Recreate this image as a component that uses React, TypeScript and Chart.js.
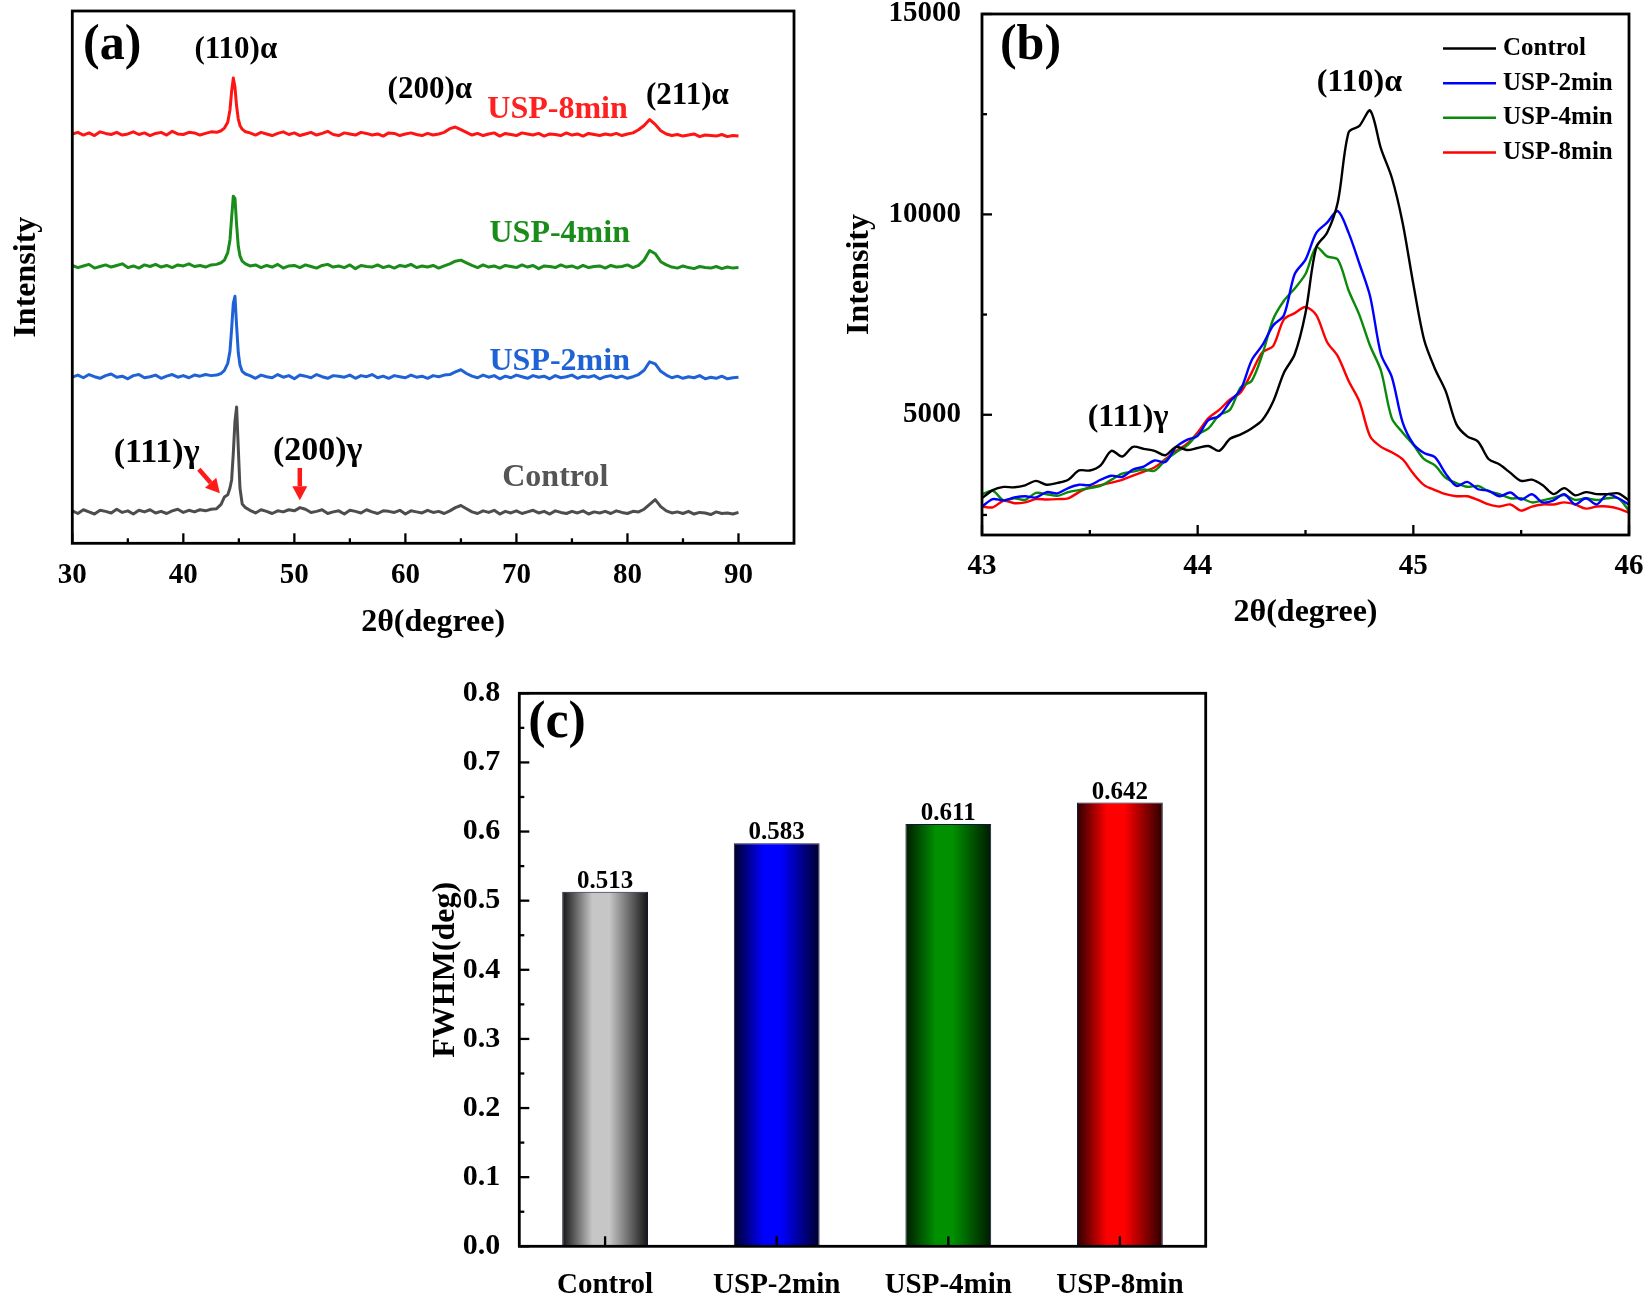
import React, { useEffect, useRef } from "react";
import { Chart, registerables } from "chart.js";

Chart.register(...registerables);

const SERIF = "'Liberation Serif', 'Times New Roman', Times, serif";
const font = (size: number) => ({ family: SERIF, size, weight: "bold" as const });

// ---------------- Panel (a): full XRD patterns ----------------
const X_A = [
  30, 30.5, 31, 31.5, 32, 32.5, 33, 33.5, 34, 34.5, 35, 35.5, 36, 36.5, 37, 37.5, 38, 38.5, 39, 39.5, 40, 40.5, 41, 41.5, 42, 42.5,
  43, 43.4, 43.7, 44, 44.2, 44.35, 44.5, 44.65, 44.8, 44.95, 45.1, 45.3, 45.6,
  46, 46.5, 47, 47.5, 48, 48.5, 49, 49.5, 50, 50.5, 51, 51.5, 52, 52.5, 53, 53.5, 54, 54.5, 55, 55.5, 56, 56.5, 57, 57.5, 58, 58.5, 59, 59.5, 60, 60.5, 61, 61.5, 62, 62.5, 63, 63.5,
  64, 64.5, 65, 65.5, 66, 66.5, 67, 67.5, 68, 68.5, 69, 69.5, 70, 70.5, 71, 71.5, 72, 72.5, 73, 73.5, 74, 74.5, 75, 75.5, 76, 76.5, 77, 77.5, 78, 78.5, 79, 79.5, 80, 80.5, 81, 81.5,
  82, 82.5, 83, 83.5, 84, 84.5, 85, 85.5, 86, 86.5, 87, 87.5, 88, 88.5, 89, 89.5, 90,
];
const A_CONTROL = [
  2, -3, 4, 0, -4, 3, 1, -2, 5, -1, 2, -4, 3, 0, 4, -2, 1, -3, 2, 5, -1, 3, 0, 4, 2, 5,
  6, 14, 28, 32, 45, 60, 110, 170, 197, 120, 45, 15, 8,
  3, -2, 4, 1, -3, 2, 0, 4, 2, 8, 5, -1, 1, 4, -3, 0, 2, -4, 3, 1, -2, 4, 0, -3, 2, 1, -1, 3, -4, 2, 0, -2, 3, -1, 1, -3,
  2, 8, 12, 6, 0, -3, 2, -1, 3, -4, 1, -2, 2, -3, 0, 3, -2, 1, -4, 2, -1, -3, 1, -2, 2, -4, 0, -2, 1, -3, 2, -1, -3, 1, 0, 5,
  14, 23, 10, 2, -2, 0, -3, 1, -4, -1, -2, -5, 0, -3, -2, -4, -1,
];
const A_2MIN = [
  -1, 3, -2, 4, 0, -3, 2, 5, -1, 1, -4, 2, 4, -2, 0, 3, -3, 1, 4, -1, 2, -2, 3, 1, 4, 2,
  3, 6, 12, 25, 48, 90, 138, 151, 95, 45, 22, 10, 5,
  2, -3, 3, 0, -2, 4, -1, 2, -4, 3, 1, -2, 4, 0, -3, 2, 1, -1, 3, -3, 2, 0, 4, -2, 1, -3, 2, 0, -2, 3, -1, 1, -3, 2, 0, 3,
  4, 9, 13, 6, 1, -2, 3, -1, 2, -4, 1, -2, 3, 0, -3, 2, -1, 1, -4, 2, -2, 0, 3, -3, 1, -1, 2, -4, 0, 2, -2, 1, -3, 0, 4, 12,
  28, 24, 10, 3, -2, 1, -3, 0, -2, 2, -4, -1, -3, 1, -4, -2, -1,
];
const A_4MIN = [
  2, -2, 1, 4, -3, 0, 3, -1, 2, 5, -2, 1, -3, 3, 0, 4, -1, 2, -2, 3, 1, 5, 0, 2, -1, 3,
  4, 7, 12, 26, 50, 92, 132, 128, 78, 38, 20, 10, 5,
  1, 3, -2, 2, -1, 4, -3, 1, 2, -2, 3, 0, -3, 2, 4, -1, 1, -2, 3, -4, 2, 0, -1, 3, -2, 1, -3, 2, 0, 4, -2, 1, -1, 2, -3, 1,
  5, 10, 12, 7, 2, -2, 3, -1, 1, -3, 2, 0, -2, 3, -1, 2, -4, 1, 0, -2, 3, -1, 1, -3, 2, -2, 0, 1, -3, 2, -1, 0, 3, -2, 2, 12,
  30, 24, 9, 3, -1, -3, 1, -2, -4, 0, -2, -3, 0, -4, -1, -3, -2,
];
const A_8MIN = [
  0, 3, -2, 2, -3, 4, 1, -1, 3, -2, 0, 4, -1, 2, -3, 1, 3, -2, 5, 0, -1, 3, 2, -2, 1, 4,
  3, 6, 11, 22, 45, 80, 105, 88, 52, 28, 16, 9, 4,
  2, -2, 3, 0, -3, 1, 4, -1, 2, -3, 0, 3, -2, 1, 5, -1, -3, 2, 0, -2, 3, 1, -2, 0, -4, 2, 1, -3, 0, 2, -1, -3, 1, -2, 0, 3,
  10, 13, 8, 3, -2, 1, -3, 0, 2, -4, 1, -1, -3, 2, 0, -2, 1, -4, 0, -1, -3, 2, -2, 0, -4, 1, -1, -3, 0, -2, 1, -3, 0, 2, 8, 16,
  27, 18, 6, 0, -3, -1, -4, -2, 0, -5, -2, -3, -4, -1, -5, -3, -4,
];
const A_SERIES = [A_CONTROL, A_2MIN, A_4MIN, A_8MIN];
const A_OFFSETS = [59, 313, 520, 769];
const SAMPLE_NAMES = ["Control", "USP-2min", "USP-4min", "USP-8min"];
const A_COLORS = ["#4d4d4d", "#1f62d6", "#1a8c1a", "#ff1414"];
const A_LABEL_COLORS = ["#555555", "#1f62d6", "#1a8c1a", "#ff2020"];
const A_X_TICKS = [30, 40, 50, 60, 70, 80, 90];
const A_X_MINOR = [35, 45, 55, 65, 75, 85];

// ---------------- Panel (b): (110) peak region ----------------
const X_B = [
  43, 43.05, 43.1, 43.15, 43.2, 43.25, 43.3, 43.35, 43.4, 43.45,
  43.5, 43.55, 43.6, 43.65, 43.7, 43.75, 43.8, 43.85, 43.9, 43.95,
  44, 44.05, 44.1, 44.15, 44.2, 44.25, 44.3, 44.35, 44.4, 44.45,
  44.5, 44.55, 44.6, 44.65, 44.7, 44.75, 44.8, 44.85, 44.9, 44.95,
  45, 45.05, 45.1, 45.15, 45.2, 45.25, 45.3, 45.35, 45.4, 45.45,
  45.5, 45.55, 45.6, 45.65, 45.7, 45.75, 45.8, 45.85, 45.9, 45.95,
  46,
];
const B_CONTROL = [
  2920, 3120, 3200, 3190, 3240, 3350, 3255, 3300, 3380, 3610,
  3610, 3740, 4100, 3960, 4200, 4150, 4100, 3990, 4200, 4120,
  4170, 4220, 4100, 4400, 4510, 4660, 4870, 5330, 6050, 6510,
  7540, 9180, 9540, 10310, 12050, 12210, 12590, 11640, 10920, 9800,
  8260, 6870, 6150, 5590, 4760, 4460, 4330, 3890, 3760, 3550,
  3350, 3380, 3240, 3020, 3170, 2990, 3070, 3020, 3020, 3040,
  2860,
];
const B_2MIN = [
  2710, 2895, 2864, 2936, 2967, 2936, 3070, 3039, 3172, 3255,
  3244, 3378, 3480, 3449, 3634, 3706, 3860, 3819, 4199, 4374,
  4476, 4866, 4969, 5328, 5636, 6355, 6735, 7228, 7485, 8511,
  8871, 9538, 9795, 10082, 9538, 8768, 7947, 6509, 5945, 4815,
  4271, 4045, 3942, 3532, 3224, 3326, 3142, 3101, 2967, 3060,
  2885, 3018, 2813, 2864, 3018, 2762, 2916, 2762, 3018, 2916,
  2762,
];
const B_4MIN = [
  3018, 3101, 2864, 2916, 2875, 3049, 3018, 2977, 3070, 3121,
  3172, 3224, 3378, 3532, 3583, 3634, 3604, 3860, 4066, 4230,
  4507, 4661, 4990, 5123, 5688, 5842, 6509, 7382, 7844, 8152,
  8511, 9179, 8953, 8871, 8101, 7485, 6715, 6099, 4918, 4558,
  4250, 3891, 3737, 3429, 3296, 3203, 3224, 3090, 3018, 2916,
  2916, 2813, 2864, 2926, 2998, 2875, 2916, 2875, 2916, 2916,
  2607,
];
const B_8MIN = [
  2710, 2690, 2854, 2793, 2813, 2895, 2885, 2895, 2916, 3070,
  3193, 3244, 3306, 3378, 3480, 3583, 3686, 3891, 4096, 4271,
  4558, 4918, 5123, 5380, 5565, 6047, 6561, 6715, 7382, 7536,
  7690, 7485, 6817, 6458, 5842, 5328, 4456, 4199, 4066, 3891,
  3532, 3244, 3121, 3018, 2967, 2967, 2875, 2762, 2710, 2762,
  2607, 2710, 2762, 2762, 2813, 2762, 2659, 2710, 2710, 2659,
  2552,
];
const B_SERIES = [B_CONTROL, B_2MIN, B_4MIN, B_8MIN];
const B_COLORS = ["#000000", "#0000ff", "#0a8a0a", "#ff0000"];
const B_X_TICKS = [43, 44, 45, 46];
const B_X_MINOR = [43.5, 44.5, 45.5];
const B_Y_TICKS = [5000, 10000, 15000];
const B_Y_MINOR = [2500, 7500, 12500];

// ---------------- Panel (c): FWHM bars ----------------
const C_CATEGORIES = ["Control", "USP-2min", "USP-4min", "USP-8min"];
const C_FWHM = [0.513, 0.583, 0.611, 0.642];
const C_Y_TICKS = [0, 0.1, 0.2, 0.3, 0.4, 0.5, 0.6, 0.7, 0.8];
const C_Y_MINOR = [0.05, 0.15, 0.25, 0.35, 0.45, 0.55, 0.65, 0.75];
const C_BAR_EDGE = ["#141414", "#00002a", "#001a00", "#2a0000"];
const C_BAR_MID = ["#c6c6c6", "#0000ff", "#009000", "#ff0000"];

// ---------------- helpers / plugins ----------------
type FrameCfg = { xMajor: number[]; xMinor: number[]; yMajor: number[]; yMinor: number[] };

function framePlugin(cfg: FrameCfg) {
  return {
    id: "frame",
    afterDatasetsDraw(chart: any) {
      const { ctx, chartArea: a, scales } = chart;
      ctx.save();
      ctx.strokeStyle = "#000";
      ctx.lineWidth = 2.3;
      const seg = (x1: number, y1: number, x2: number, y2: number) => {
        ctx.beginPath();
        ctx.moveTo(x1, y1);
        ctx.lineTo(x2, y2);
        ctx.stroke();
      };
      cfg.xMajor.forEach((v) => {
        const p = scales.x.getPixelForValue(v);
        seg(p, a.bottom, p, a.bottom - 10);
      });
      cfg.xMinor.forEach((v) => {
        const p = scales.x.getPixelForValue(v);
        seg(p, a.bottom, p, a.bottom - 5);
      });
      cfg.yMajor.forEach((v) => {
        const p = scales.y.getPixelForValue(v);
        seg(a.left, p, a.left + 10, p);
      });
      cfg.yMinor.forEach((v) => {
        const p = scales.y.getPixelForValue(v);
        seg(a.left, p, a.left + 5, p);
      });
      ctx.lineWidth = 2.8;
      ctx.strokeRect(a.left, a.top, a.right - a.left, a.bottom - a.top);
      ctx.restore();
    },
  };
}

type Note = { text: string; x: number; y: number; size: number; color?: string; rel?: boolean };

function notesPlugin(notes: Note[]) {
  return {
    id: "notes",
    afterDraw(chart: any) {
      const { ctx, chartArea: a, scales } = chart;
      ctx.save();
      ctx.textAlign = "center";
      ctx.textBaseline = "middle";
      notes.forEach((n) => {
        ctx.font = `bold ${n.size}px ${SERIF}`;
        ctx.fillStyle = n.color || "#000";
        const px = n.rel ? a.left + n.x : scales.x.getPixelForValue(n.x);
        const py = n.rel ? a.top + n.y : scales.y.getPixelForValue(n.y);
        ctx.fillText(n.text, px, py);
      });
      ctx.restore();
    },
  };
}

type Arrow = { x1: number; y1: number; x2: number; y2: number };

function arrowsPlugin(arrows: Arrow[]) {
  return {
    id: "arrows",
    afterDraw(chart: any) {
      const { ctx, scales } = chart;
      ctx.save();
      ctx.strokeStyle = "#ff1a1a";
      ctx.fillStyle = "#ff1a1a";
      ctx.lineWidth = 4.5;
      arrows.forEach((ar) => {
        const x1 = scales.x.getPixelForValue(ar.x1);
        const y1 = scales.y.getPixelForValue(ar.y1);
        const x2 = scales.x.getPixelForValue(ar.x2);
        const y2 = scales.y.getPixelForValue(ar.y2);
        const ang = Math.atan2(y2 - y1, x2 - x1);
        const head = 14;
        const hw = 7.5;
        const bx = x2 - head * Math.cos(ang);
        const by = y2 - head * Math.sin(ang);
        ctx.beginPath();
        ctx.moveTo(x1, y1);
        ctx.lineTo(bx, by);
        ctx.stroke();
        ctx.beginPath();
        ctx.moveTo(x2, y2);
        ctx.lineTo(bx + hw * Math.sin(ang), by - hw * Math.cos(ang));
        ctx.lineTo(bx - hw * Math.sin(ang), by + hw * Math.cos(ang));
        ctx.closePath();
        ctx.fill();
      });
      ctx.restore();
    },
  };
}

const legendPlugin = {
  id: "lineLegend",
  afterDraw(chart: any) {
    const { ctx, chartArea: a } = chart;
    ctx.save();
    ctx.font = `bold 25px ${SERIF}`;
    ctx.textAlign = "left";
    ctx.textBaseline = "middle";
    chart.data.datasets.forEach((ds: any, i: number) => {
      const y = a.top + 34.6 + i * 34.6;
      ctx.strokeStyle = ds.borderColor;
      ctx.lineWidth = 2.5;
      ctx.beginPath();
      ctx.moveTo(a.right - 186, y);
      ctx.lineTo(a.right - 133, y);
      ctx.stroke();
      ctx.fillStyle = "#000";
      ctx.fillText(ds.label, a.right - 126, y);
    });
    ctx.restore();
  },
};

const valueLabelPlugin = {
  id: "valueLabels",
  afterDatasetsDraw(chart: any) {
    const { ctx } = chart;
    const meta = chart.getDatasetMeta(0);
    ctx.save();
    ctx.font = `bold 25px ${SERIF}`;
    ctx.fillStyle = "#000";
    ctx.textAlign = "center";
    ctx.textBaseline = "alphabetic";
    meta.data.forEach((bar: any, i: number) => {
      const v = chart.data.datasets[0].data[i] as number;
      ctx.fillText(v.toFixed(3), bar.x, bar.y - 4);
    });
    ctx.restore();
  },
};

function zeroPad(s: any) {
  s.paddingTop = 0;
  s.paddingBottom = 0;
  s.paddingLeft = 0;
  s.paddingRight = 0;
}

// ---------------- chart configs ----------------
function configA(): any {
  return {
    type: "line",
    data: {
      datasets: A_SERIES.map((ser, k) => ({
        label: SAMPLE_NAMES[k],
        data: X_A.map((x, i) => ({ x, y: ser[i] + A_OFFSETS[k] })),
        borderColor: A_COLORS[k],
        borderWidth: 3,
        borderJoinStyle: "round",
        pointRadius: 0,
        tension: 0,
        fill: false,
      })),
    },
    options: {
      responsive: false,
      animation: false,
      devicePixelRatio: 1,
      layout: { padding: { top: 11, right: 29, bottom: 0, left: 0 } },
      plugins: { legend: { display: false }, tooltip: { enabled: false } },
      scales: {
        x: {
          type: "linear",
          min: 30,
          max: 95,
          grid: { display: false },
          border: { display: false },
          ticks: { font: font(29), color: "#000", padding: 7, maxRotation: 0, autoSkip: false },
          afterBuildTicks: (s: any) => {
            s.ticks = A_X_TICKS.map((v) => ({ value: v }));
          },
          title: { display: true, text: "2θ(degree)", font: font(32), color: "#000", padding: { top: 0, bottom: 3.8 } },
          afterFit: (s: any) => {
            s.height = 102.7;
            zeroPad(s);
          },
        },
        y: {
          type: "linear",
          min: 0,
          max: 1000,
          grid: { display: false },
          border: { display: false },
          ticks: { display: false },
          title: { display: true, text: "Intensity", font: font(32), color: "#000", padding: { top: 7.8, bottom: 0 } },
          afterFit: (s: any) => {
            s.width = 72.3;
            zeroPad(s);
          },
        },
      },
    },
    plugins: [
      framePlugin({ xMajor: A_X_TICKS, xMinor: A_X_MINOR, yMajor: [], yMinor: [] }),
      notesPlugin([
        { text: "(a)", x: 33.6, y: 935, size: 50 },
        { text: "(110)α", x: 44.73, y: 926, size: 31 },
        { text: "(200)α", x: 62.2, y: 851, size: 31 },
        { text: "(211)α", x: 85.4, y: 841, size: 31 },
        { text: SAMPLE_NAMES[3], x: 73.7, y: 815, size: 32, color: A_LABEL_COLORS[3] },
        { text: SAMPLE_NAMES[2], x: 73.9, y: 582, size: 32, color: A_LABEL_COLORS[2] },
        { text: SAMPLE_NAMES[1], x: 73.9, y: 342, size: 32, color: A_LABEL_COLORS[1] },
        { text: SAMPLE_NAMES[0], x: 73.5, y: 123, size: 32, color: A_LABEL_COLORS[0] },
        { text: "(111)γ", x: 37.6, y: 169, size: 34 },
        { text: "(200)γ", x: 52.1, y: 173, size: 34 },
      ]),
      arrowsPlugin([
        { x1: 41.4, y1: 139, x2: 43.29, y2: 94 },
        { x1: 50.49, y1: 141.5, x2: 50.49, y2: 81 },
      ]),
    ],
  };
}

function configB(): any {
  return {
    type: "line",
    data: {
      datasets: B_SERIES.map((ser, k) => ({
        label: SAMPLE_NAMES[k],
        data: X_B.map((x, i) => ({ x, y: ser[i] })),
        borderColor: B_COLORS[k],
        borderWidth: 2.4,
        pointRadius: 0,
        tension: 0.3,
        fill: false,
      })),
    },
    options: {
      responsive: false,
      animation: false,
      devicePixelRatio: 1,
      layout: { padding: { top: 14, right: 17, bottom: 0, left: 0 } },
      plugins: { legend: { display: false }, tooltip: { enabled: false } },
      scales: {
        x: {
          type: "linear",
          min: 43,
          max: 46,
          grid: { display: false },
          border: { display: false },
          ticks: { font: font(29), color: "#000", padding: 6, maxRotation: 0, autoSkip: false, callback: (v: any) => String(v) },
          afterBuildTicks: (s: any) => {
            s.ticks = B_X_TICKS.map((v) => ({ value: v }));
          },
          title: { display: true, text: "2θ(degree)", font: font(32), color: "#000", padding: { top: 0, bottom: 13.8 } },
          afterFit: (s: any) => {
            s.height = 111;
            zeroPad(s);
          },
        },
        y: {
          type: "linear",
          min: 2000,
          max: 15000,
          grid: { display: false },
          border: { display: false },
          ticks: { font: font(29), color: "#000", padding: 13, callback: (v: any) => String(v) },
          afterBuildTicks: (s: any) => {
            s.ticks = B_Y_TICKS.map((v) => ({ value: v }));
          },
          title: { display: true, text: "Intensity", font: font(32), color: "#000", padding: { top: 17.8, bottom: 0 } },
          afterFit: (s: any) => {
            s.width = 159;
            zeroPad(s);
          },
        },
      },
    },
    plugins: [
      framePlugin({ xMajor: B_X_TICKS, xMinor: B_X_MINOR, yMajor: B_Y_TICKS, yMinor: B_Y_MINOR }),
      notesPlugin([
        { text: "(b)", x: 43.225, y: 14202, size: 50 },
        { text: "(110)α", x: 44.75, y: 13278, size: 32 },
        { text: "(111)γ", x: 43.677, y: 4919, size: 32 },
      ]),
      legendPlugin,
    ],
  };
}

function configC(): any {
  return {
    type: "bar",
    data: {
      labels: C_CATEGORIES,
      datasets: [
        {
          label: "FWHM",
          data: C_FWHM,
          barPercentage: 0.5,
          categoryPercentage: 1.0,
          borderColor: "#16163a",
          borderWidth: 1,
          backgroundColor: (ctx: any) => {
            const chart = ctx.chart;
            const i = ctx.dataIndex ?? 0;
            const xs = chart.scales && chart.scales.x;
            if (!chart.chartArea || !xs) return C_BAR_MID[i];
            const cx = xs.getPixelForValue(i);
            const half = (xs.width / C_CATEGORIES.length) * 0.25;
            const g = chart.ctx.createLinearGradient(cx - half, 0, cx + half, 0);
            g.addColorStop(0, C_BAR_EDGE[i]);
            g.addColorStop(0.35, C_BAR_MID[i]);
            g.addColorStop(0.55, C_BAR_MID[i]);
            g.addColorStop(1, C_BAR_EDGE[i]);
            return g;
          },
        },
      ],
    },
    options: {
      responsive: false,
      animation: false,
      devicePixelRatio: 1,
      layout: { padding: { top: 43.3, right: 40.3, bottom: 0, left: 0 } },
      plugins: { legend: { display: false }, tooltip: { enabled: false } },
      scales: {
        x: {
          type: "category",
          offset: true,
          grid: { display: false },
          border: { display: false },
          ticks: { font: font(29), color: "#000", padding: 14.3, maxRotation: 0, autoSkip: false },
          afterFit: (s: any) => {
            s.height = 46.7;
            zeroPad(s);
          },
        },
        y: {
          type: "linear",
          min: 0,
          max: 0.8,
          grid: { display: false },
          border: { display: false },
          ticks: { font: font(30), color: "#000", padding: 11, callback: (v: any) => Number(v).toFixed(1) },
          afterBuildTicks: (s: any) => {
            s.ticks = C_Y_TICKS.map((v) => ({ value: v }));
          },
          title: { display: true, text: "FWHM(deg)", font: font(32), color: "#000", padding: { top: 26.8, bottom: 0 } },
          afterFit: (s: any) => {
            s.width = 119.3;
            zeroPad(s);
          },
        },
      },
    },
    plugins: [
      framePlugin({ xMajor: [0, 1, 2, 3], xMinor: [], yMajor: C_Y_TICKS, yMinor: C_Y_MINOR }),
      notesPlugin([{ text: "(c)", x: 37.7, y: 30.7, size: 52, rel: true }]),
      valueLabelPlugin,
    ],
  };
}

function ChartBox(props: { left: number; top: number; width: number; height: number; make: () => any }) {
  const ref = useRef<HTMLCanvasElement>(null);
  useEffect(() => {
    const chart = new Chart(ref.current as HTMLCanvasElement, props.make());
    return () => chart.destroy();
  }, []);
  return (
    <canvas
      ref={ref}
      width={props.width}
      height={props.height}
      style={{ position: "absolute", left: props.left, top: props.top, width: props.width, height: props.height }}
    />
  );
}

export default function App() {
  return (
    <div style={{ position: "absolute", left: 0, top: 0, width: 1646, height: 1293, background: "#fff", overflow: "hidden" }}>
      <ChartBox left={0} top={0} width={823} height={646} make={configA} />
      <ChartBox left={823} top={0} width={823} height={646} make={configB} />
      <ChartBox left={400} top={650} width={846} height={643} make={configC} />
    </div>
  );
}
